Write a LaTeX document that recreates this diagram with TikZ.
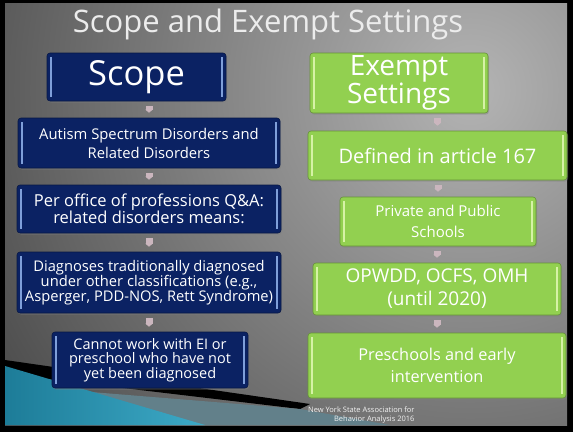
\documentclass[tikz,border=0pt]{standalone}
\usepackage{fontspec}
\setmainfont{Open Sans}
\usepackage{tikz}
\usetikzlibrary{arrows.meta,shadows}

\definecolor{scopenavy}{HTML}{0B2263}
\definecolor{scopeglint}{HTML}{7F9FDA}
\definecolor{exemptgreen}{HTML}{92D050}
\definecolor{exemptglint}{HTML}{D6F2A6}
\definecolor{linkpink}{HTML}{CBB6BE}
\definecolor{slidegray}{HTML}{B4B4B4}
\definecolor{swoopteal}{HTML}{3DAAC7}
\definecolor{swoopdeep}{HTML}{1D7C98}
\definecolor{swoopslate}{HTML}{62808A}

\begin{document}
\begin{tikzpicture}
[x=1pt,y=-1pt,
 glint/.style={path picture={
   \draw[#1,line width=1.2pt] ([xshift=4pt,yshift=-4pt]path picture bounding box.north west) -- ([xshift=4pt,yshift=4pt]path picture bounding box.south west);
   \draw[#1,line width=1.2pt] ([xshift=-4pt,yshift=-4pt]path picture bounding box.north east) -- ([xshift=-4pt,yshift=4pt]path picture bounding box.south east);}},
 card/.style={rectangle,rounded corners=3pt,inner sep=0pt,align=center,text=white,line width=0.6pt,
   drop shadow={opacity=0.45,shadow xshift=1pt,shadow yshift=-1.5pt}},
 scopebox/.style={card,draw=scopenavy!70!black,fill=scopenavy,glint=scopeglint},
 exemptbox/.style={card,draw=exemptgreen!70!black,fill=exemptgreen,glint=exemptglint},
 link/.style={draw=linkpink,line width=7pt,shorten <=5pt,shorten >=5pt,-{Triangle[length=3pt,width=7pt]}}]

% slide background
\fill[black] (0,0) rectangle (573,432);
\begin{scope}
\clip (5,3) rectangle (567,425);
\shade[inner color=slidegray,outer color=black] (470,90) circle (960pt);
% swoosh in the corner
\fill[black] (5,360) -- (310,404) -- (300,409) -- (5,374) -- cycle;
\fill[swoopslate] (5,385) -- (300,409) -- (390,425) -- (5,425) -- cycle;
\shade[left color=swoopdeep,right color=swoopteal] (5,366) -- (205,425) -- (5,425) -- cycle;
\end{scope}

\node (title) at (268,32) [anchor=base,text=gray!15,font=\fontsize{31}{31}\selectfont] {Scope and Exempt Settings};

% scope column
\node[scopebox,minimum width=179pt,minimum height=48pt,font=\fontsize{34.5}{34}\selectfont] (scopehead) at (136.5,77) {Scope};
\node[scopebox,minimum width=262pt,minimum height=50pt,font=\fontsize{14.8}{19}\selectfont] (b1) at (149,143) {Autism Spectrum Disorders and\\Related Disorders};
\node[scopebox,minimum width=264pt,minimum height=48pt,font=\fontsize{16.5}{16}\selectfont] (b2) at (149,209) {Per office of professions Q\&A:\\related disorders means:};
\node[scopebox,minimum width=264pt,minimum height=61pt,font=\fontsize{14.7}{15}\selectfont] (b3) at (149,282.5) {Diagnoses traditionally diagnosed\\under other classifications (e.g.,\\Asperger, PDD-NOS, Rett Syndrome)};
\node[scopebox,minimum width=196pt,minimum height=56pt,font=\fontsize{14.5}{14}\selectfont] (b4) at (150,360) {Cannot work with EI or\\preschool who have not\\yet been diagnosed};

\draw[link] (scopehead.south -| b1.north) -- (b1.north);
\draw[link] (b1) -- (b2);
\draw[link] (b2) -- (b3);
\draw[link] (b3.south) -- (b3.south |- b4.north);

% exempt column
\node[exemptbox,minimum width=178pt,minimum height=60pt,font=\fontsize{28}{26}\selectfont] (exempthead) at (399,83) {Exempt\\Settings};
\node[exemptbox,minimum width=259pt,minimum height=49pt,font=\fontsize{20}{22}\selectfont] (r1) at (437.5,155.5) {Defined in article 167};
\node[exemptbox,minimum width=196pt,minimum height=49pt,font=\fontsize{15}{21}\selectfont] (r2) at (438,221.5) {Private and Public\\Schools};
\node[exemptbox,minimum width=248pt,minimum height=52pt,font=\fontsize{19}{23}\selectfont] (r3) at (437,289) {OPWDD, OCFS, OMH\\(until 2020)};
\node[exemptbox,minimum width=258pt,minimum height=65pt,font=\fontsize{16.3}{22}\selectfont] (r4) at (437,365.5) {Preschools and early\\intervention};

\draw[link] (exempthead.south -| r1.north) -- (r1.north);
\draw[link] (r1.south -| r2.north) -- (r2.north);
\draw[link] (r2.south -| r3.north) -- (r3.north);
\draw[link] (r3.south -| r4.north) -- (r4.north);

\node (credit) at (418,403) [anchor=north east,align=right,text=gray!10,font=\fontsize{7.5}{9.5}\selectfont] {New York State Association for\\Behavior Analysis 2016};
\end{tikzpicture}
\end{document}
